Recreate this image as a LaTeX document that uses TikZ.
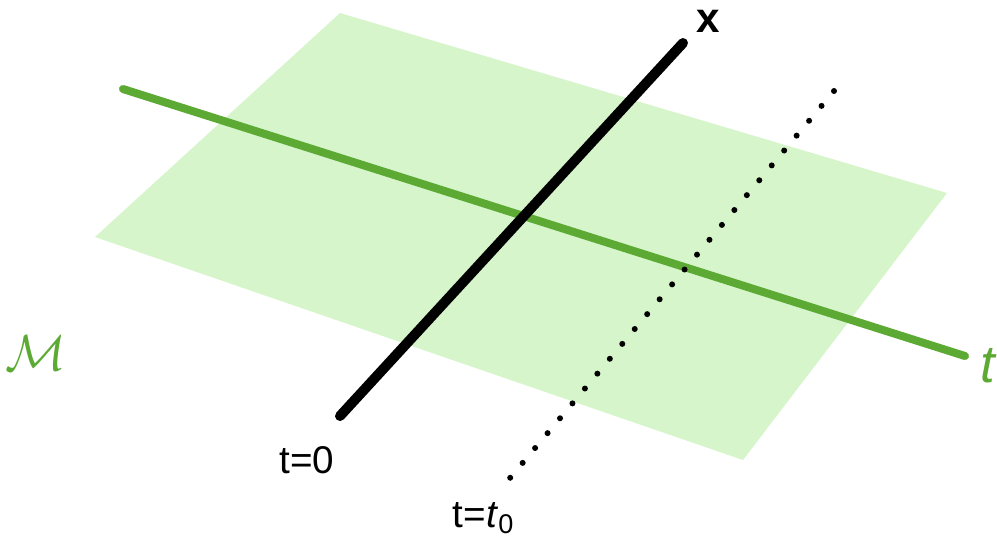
\documentclass[tikz,border=0pt]{standalone}
\usepackage{fontspec}
\setmainfont{Liberation Sans}
\usepackage{amsmath}
\usepackage{xcolor}
\usetikzlibrary{calc}

\definecolor{sheetgreen}{RGB}{214,245,203}
\definecolor{axisgreen}{RGB}{92,170,52}

\begin{document}
\begin{tikzpicture}[
  x=0.1mm, y=-0.1mm,
  font=\fontsize{11}{13}\selectfont,
  sheet/.style={fill=sheetgreen, draw=none},
  taxis/.style={axisgreen, line width=0.8mm, line cap=round},
  xaxis/.style={black, line width=1mm, line cap=round},
  slice/.style={black, line width=0.6mm, line cap=round,
                dash pattern=on 0pt off 1.94mm},
  lab/.style={inner sep=1pt},
]
\useasboundingbox (0,0) rectangle (997,535);

%% -- the manifold sheet --------------------------------------------------------
\coordinate (mtop)    at (340,13);
\coordinate (mright)  at (947,193);
\coordinate (mbottom) at (743,460);
\coordinate (mleft)   at (95,237);
\fill[sheet] (mtop) -- (mright) -- (mbottom) -- (mleft) -- cycle;

%% -- axes ----------------------------------------------------------------------
\coordinate (tstart) at (123,89);
\coordinate (tend)   at (965,356);
\coordinate (xlow)   at (340,416);
\coordinate (xhigh)  at (683,43);
\coordinate (slow)   at (510,478);
\coordinate (shigh)  at (834,91);

\draw[taxis] (tstart) -- (tend);
\draw[xaxis] (xlow) -- (xhigh);
\draw[slice] (shigh) -- (slow);

%% -- labels --------------------------------------------------------------------
\node[lab, font=\fontsize{12}{14}\selectfont\bfseries] (xlab) at (708,21) {x};
\node[lab, text=axisgreen, font=\fontsize{15}{17}\selectfont\itshape] (tlab) at (988,366) {t};
\node[lab, text=axisgreen, font=\fontsize{15}{17}\selectfont] (mlab) at (36,353) {$\mathcal{M}$};
\node[lab] (t0lab) at (307,460) {t=0};
\node[lab] (tt0lab) at (484,518) {t=\textit{t}\textsubscript{0}};

\end{tikzpicture}
\end{document}
